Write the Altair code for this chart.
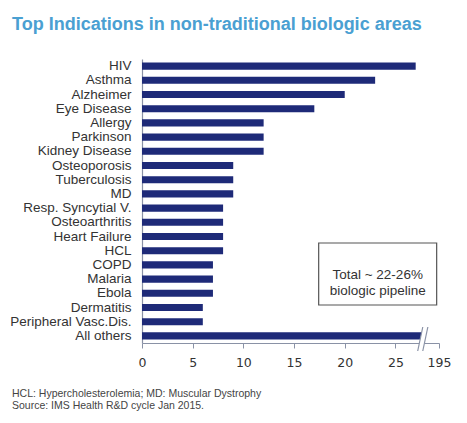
import altair as alt
import pandas as pd

categories = ["HIV", "Asthma", "Alzheimer", "Eye Disease", "Allergy", "Parkinson",
              "Kidney Disease", "Osteoporosis", "Tuberculosis", "MD",
              "Resp. Syncytial V.", "Osteoarthritis", "Heart Failure", "HCL",
              "COPD", "Malaria", "Ebola", "Dermatitis", "Peripheral Vasc.Dis.",
              "All others"]
values = [27, 23, 20, 17, 12, 12, 12, 9, 9, 9, 8, 8, 8, 8, 7, 7, 7, 6, 6, 195]

x_tick_values = [0, 5, 10, 15, 20, 25, 29.3]
x_tick_labels = ["0", "5", "10", "15", "20", "25", "195"]
x_max = 29.3
break_at = 27.6

title_text = "Top Indications in non-traditional biologic areas"
box_lines = ["Total ~ 22-26%", "biologic pipeline"]
footer_lines = ["HCL: Hypercholesterolemia; MD: Muscular Dystrophy",
                "Source: IMS Health R&D cycle Jan 2015."]

NAVY = "#1e2a78"
AXIS = "#8a92a6"
TEXT = "#333333"
SANS = "Arial"

df = pd.DataFrame({"indication": categories, "count": values})

label_expr = ("[" + ",".join("'%s'" % s for s in x_tick_labels) + "][indexof(["
              + ",".join(str(v) for v in x_tick_values) + "], datum.value)]")

xscale = alt.Scale(domain=[0, x_max], nice=False, zero=True)

bars = alt.Chart(df).transform_calculate(
    shown="min(datum.count, %s)" % break_at
).mark_bar(color=NAVY).encode(
    y=alt.Y("indication:N", sort=categories,
            scale=alt.Scale(paddingInner=0.5, paddingOuter=0.25),
            axis=alt.Axis(title=None, ticks=False, labelFont=SANS,
                          labelFontSize=13.5, labelColor=TEXT, labelPadding=11,
                          labelAlign="right", labelBaseline="middle",
                          domainColor=AXIS, domainWidth=1.2)),
    x=alt.X("shown:Q", scale=xscale,
            axis=alt.Axis(title=None, values=x_tick_values, labelExpr=label_expr,
                          grid=False, tickSize=5, tickColor=AXIS, domainColor=AXIS,
                          domainWidth=1.2, labelFont="DejaVu Sans", labelFontSize=12.5,
                          labelColor=TEXT, labelPadding=8, labelFlush=False)),
    tooltip=["indication:N", "count:Q"],
)

gap_df = pd.DataFrame({"x": [27.45], "x2": [27.95]})
gap = alt.Chart(gap_df).mark_rule(color="white", strokeWidth=5).encode(
    x=alt.X("x:Q", scale=xscale), x2="x2:Q", y=alt.value(291), y2=alt.value(269))

slash_df = pd.DataFrame({"x": [27.2, 27.7], "x2": [27.7, 28.2]})
slashes = alt.Chart(slash_df).mark_rule(color=AXIS, strokeWidth=1.2).encode(
    x=alt.X("x:Q", scale=xscale), x2="x2:Q", y=alt.value(292), y2=alt.value(268))

box = alt.Chart(pd.DataFrame({"a": [0]})).mark_rect(
    fill="white", stroke="#555555", strokeWidth=1.2).encode(
    x=alt.datum(17.43), x2=alt.datum(29.07), y=alt.value(184), y2=alt.value(246))

box_text = alt.Chart(pd.DataFrame({"a": [0]})).mark_text(
    text=box_lines, font=SANS, fontSize=13.5, color=TEXT, lineHeight=16,
    align="center", baseline="middle").encode(
    x=alt.datum(23.25), y=alt.value(216))

footer = alt.Chart(pd.DataFrame({"a": [0]})).mark_text(
    text=footer_lines, font=SANS, fontSize=10.5, color="#444444", lineHeight=11.7,
    align="left", baseline="alphabetic").encode(
    x=alt.value(-130), y=alt.value(338))

chart = alt.layer(bars, gap, slashes, box, box_text, footer).properties(
    width=297, height=284,
    title=alt.TitleParams(title_text, anchor="start", frame="group", dx=-130,
                          offset=25, font=SANS, fontSize=18, fontWeight="bold",
                          color="#4aa0d2"),
    autosize=alt.AutoSizeParams(type="none"),
    padding={"left": 142, "top": 59, "right": 28, "bottom": 80},
    background="white",
).configure_view(stroke=None)

chart.save("out.html", embed_options={"renderer": "svg", "actions": False})
